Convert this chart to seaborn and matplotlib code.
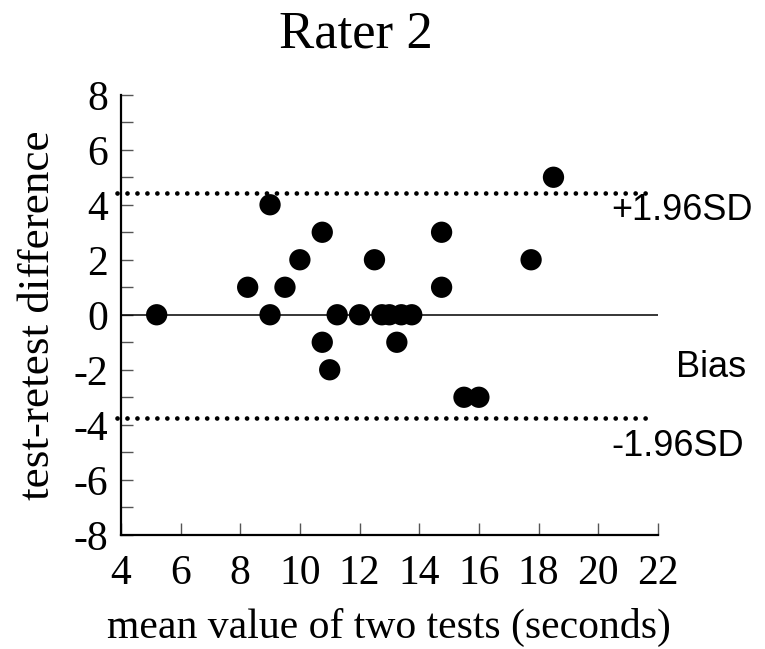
"""Bland-Altman plot for rater 2: test-retest difference vs mean of two tests."""

import matplotlib
matplotlib.use('Agg')
import matplotlib.pyplot as plt
import seaborn as sns
from matplotlib.ticker import MultipleLocator

# mean of the two tests (seconds) and the test-retest difference
means = [5.2, 8.25, 9.0, 9.0, 9.5, 10.0, 10.75, 10.75, 11.0, 11.25, 12.0, 12.5,
         12.75, 13.0, 13.25, 13.4, 13.75, 14.75, 14.75, 15.5, 16.0, 17.75, 18.5]
diffs = [0, 1, 4, 0, 1, 2, 3, -1, -2, 0, 0, 2,
         0, 0, -1, 0, 0, 3, 1, -3, -3, 2, 5]

bias = 0.0
upper_loa = 4.42
lower_loa = -3.74

xticks = [4, 6, 8, 10, 12, 14, 16, 18, 20, 22]
yticks = [-8, -6, -4, -2, 0, 2, 4, 6, 8]

sns.set_theme(style='ticks')
plt.rcParams['font.family'] = ['Liberation Serif', 'DejaVu Serif']
plt.rcParams['axes.unicode_minus'] = False
plt.rcParams['text.color'] = 'black'
plt.rcParams['axes.labelcolor'] = 'black'

fig = plt.figure(figsize=(7.65, 6.49), dpi=100)
ax = fig.add_axes([0.158, 0.176, 0.702, 0.678])

sns.scatterplot(x=means, y=diffs, ax=ax, color='black', s=235,
                edgecolor='none', zorder=3, clip_on=False)

# bias and limits of agreement
ax.hlines(bias, 4, 22, color='black', lw=1.1, zorder=2)
for lim in (upper_loa, lower_loa):
    ax.hlines(lim, 3.87, 21.75, color='black', lw=3.4,
              linestyles=[(0, (0.01, 2.1))], capstyle='round', clip_on=False)

sans = ['Liberation Sans', 'DejaVu Sans']
ax.text(22.8, 3.78, '+1.96SD', ha='center', va='center', fontsize=26,
        family=sans, clip_on=False)
ax.text(23.77, -1.91, 'Bias', ha='center', va='center', fontsize=26,
        family=sans, clip_on=False)
ax.text(22.66, -4.79, '-1.96SD', ha='center', va='center', fontsize=26,
        family=sans, clip_on=False)

ax.set_xlim(4, 22)
ax.set_ylim(-8, 8)
ax.set_xticks(xticks)
ax.set_yticks(yticks)
ax.yaxis.set_minor_locator(MultipleLocator(1))
ax.tick_params(axis='both', which='both', direction='in', length=8.5,
               width=1.0, color='#555555', labelcolor='black', labelsize=30)
ax.tick_params(axis='y', pad=9)
ax.tick_params(axis='x', pad=14)

sns.despine(ax=ax)
for side in ('left', 'bottom'):
    ax.spines[side].set_linewidth(1.6)
    ax.spines[side].set_color('black')

ax.set_xlabel('mean value of two tests (seconds)', fontsize=30, labelpad=11)
ax.set_ylabel('test-retest difference', fontsize=32.5, labelpad=11)
fig.text(0.465, 1 - 48 / 649, 'Rater 2', ha='center', va='baseline', fontsize=38)

fig.savefig('out.png', dpi=100, facecolor='white')
